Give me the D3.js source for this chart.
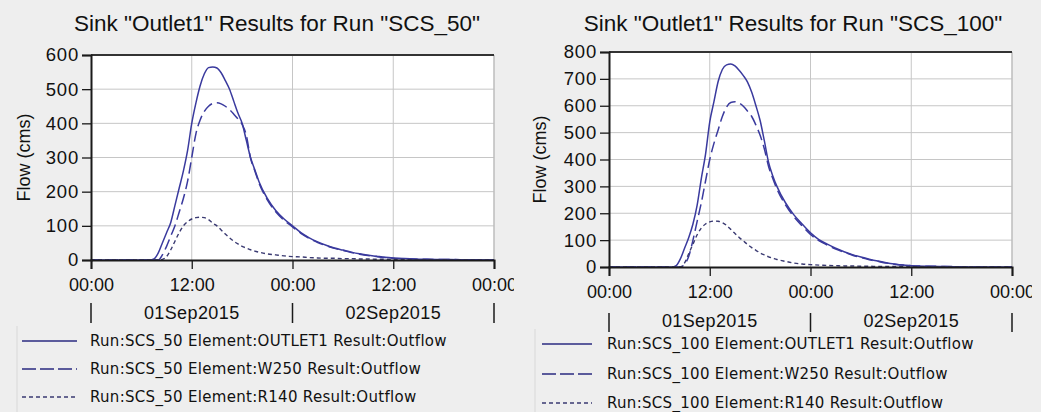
<!DOCTYPE html>
<html>
<head>
<meta charset="utf-8">
<script src="https://cdn.jsdelivr.net/npm/d3@7"></script>
<style>
  body { margin: 0; background: #eeeeee; }
  svg { display: block; }
  text { font-family: "Liberation Sans", Arial, sans-serif; fill: #111; }
</style>
</head>
<body>
<div class="hydro"></div>
<script>
// hours after 01Sep2015 00:00
var hours = [0, 7, 7.5, 8, 8.5, 9, 9.5, 10, 10.5, 11, 11.5, 12, 12.5, 13, 13.5, 14, 14.5, 15, 15.5, 16, 16.5, 17, 17.5, 18, 18.5, 19, 19.5, 20,
    21, 22, 23, 24, 25, 26, 27, 28, 29, 30, 31, 32, 33, 34, 35, 36, 38, 40, 44, 48];

// SCS_50 run
var outlet50 = [0, 0, 3, 20, 50, 80, 110, 160, 210, 260, 320, 400, 460, 510, 545, 563, 565, 562, 548, 525, 500, 465, 430, 400, 350, 300, 265, 230,
    180, 145, 120, 100, 80, 65, 53, 43, 35, 29, 23, 18, 14, 11, 8, 6, 4, 2, 1, 0];
var w250_50 = [0, 0, 0, 0, 15, 40, 70, 100, 140, 180, 230, 300, 370, 410, 435, 450, 458, 460, 457, 450, 440, 427, 413, 397, 365, 298, 262, 226,
    176, 141, 116, 97, 78, 63, 51, 42, 34, 28, 22, 17, 13, 10, 7, 5, 3, 2, 1, 0];
var r140_50 = [0, 0, 0, 0, 2, 10, 30, 55, 80, 100, 112, 120, 124, 125, 124, 118, 108, 100, 88, 76, 65, 55, 47, 40, 35, 30, 26, 23,
    18, 15, 12, 10, 9, 7, 6, 5, 5, 4, 4, 3, 3, 2, 2, 2, 1, 1, 0, 0];

// SCS_100 run
var outlet100 = [0, 0, 0, 5, 30, 70, 110, 160, 230, 330, 420, 540, 615, 690, 735, 752, 755, 748, 732, 712, 688, 650, 600, 545, 470, 390, 340, 300,
    240, 195, 160, 127, 102, 85, 70, 57, 46, 37, 29, 22, 16, 11, 7, 5, 3, 2, 0, 0];
var w250_100 = [0, 0, 0, 0, 0, 10, 40, 100, 170, 240, 320, 400, 460, 510, 560, 595, 612, 615, 610, 598, 580, 560, 528, 490, 440, 375, 330, 290,
    232, 188, 153, 121, 98, 82, 67, 55, 44, 35, 27, 21, 15, 10, 7, 5, 3, 2, 0, 0];
var r140_100 = [0, 0, 0, 0, 0, 15, 50, 85, 120, 145, 160, 168, 171, 170, 165, 155, 140, 125, 110, 97, 84, 72, 62, 52, 45, 38, 33, 28,
    21, 15, 11, 9, 7, 6, 5, 4, 4, 3, 3, 2, 2, 2, 2, 1, 1, 1, 0, 0];

var yTicks50 = [0, 100, 200, 300, 400, 500, 600];
var yTicks100 = [0, 100, 200, 300, 400, 500, 600, 700, 800];
var dayLabels = ["01Sep2015", "02Sep2015"];
var elements = ["OUTLET1", "W250", "R140"];

var start = new Date(2015, 8, 1, 0, 0),
    end = new Date(2015, 8, 3, 0, 0);

var width = 1041, height = 412;

var svg = d3.select(".hydro")
    .append("svg")
    .attr("width", width)
    .attr("height", height);

svg.append("rect")
    .attr("width", width)
    .attr("height", height)
    .style("fill", "#eeeeee");

var lineColor = "#3a3a9e";
var styles = [
    { dash: null, color: lineColor, w: 1.5 },
    { dash: "11,5", color: lineColor, w: 1.5 },
    { dash: "4,3", color: "#3a3a72", w: 1.4 }
];

var panels = [
    { run: "SCS_50", series: [outlet50, w250_50, r140_50], ticks: yTicks50,
      x0: 91, x1: 494, y0: 55, y1: 260, clipX: 0, clipW: 514, titleX: 277,
      ylabX: 30, hhY: 291, dayY: 319, barTop: 303, barBot: 323,
      legY: [341, 369, 397], legX0: 22, legX1: 77, legTx: 90, border: 17 },
    { run: "SCS_100", series: [outlet100, w250_100, r140_100], ticks: yTicks100,
      x0: 609, x1: 1012, y0: 52, y1: 267, clipX: 520, clipW: 512, titleX: 793,
      ylabX: 546, hhY: 298, dayY: 327, barTop: 313, barBot: 332,
      legY: [344, 374, 403], legX0: 542, legX1: 592, legTx: 607, border: 535 }
];

panels.forEach(function(p, pi) {

    var clipId = "clip" + pi;
    svg.append("clipPath").attr("id", clipId)
        .append("rect")
        .attr("x", p.clipX).attr("y", 0)
        .attr("width", p.clipW).attr("height", height);

    var g = svg.append("g").attr("clip-path", "url(#" + clipId + ")");

    var x = d3.scaleTime().domain([start, end]).range([p.x0, p.x1]);
    var y = d3.scaleLinear().domain([0, d3.max(p.ticks)]).range([p.y1, p.y0]);

    // plot area
    g.append("rect")
        .attr("x", p.x0).attr("y", p.y0)
        .attr("width", p.x1 - p.x0).attr("height", p.y1 - p.y0)
        .style("fill", "#ffffff");

    // grid
    g.append("g").selectAll("line")
        .data(p.ticks.slice(1, -1))
        .enter().append("line")
        .attr("x1", p.x0).attr("x2", p.x1)
        .attr("y1", function(d) { return y(d); })
        .attr("y2", function(d) { return y(d); })
        .style("stroke", "#c6c6c6");

    var xTicks = d3.timeHour.every(12).range(start, d3.timeHour.offset(end, 1));

    g.append("g").selectAll("line")
        .data(xTicks.slice(1, -1))
        .enter().append("line")
        .attr("x1", function(d) { return x(d); })
        .attr("x2", function(d) { return x(d); })
        .attr("y1", p.y0).attr("y2", p.y1)
        .style("stroke", "#c6c6c6");

    // borders
    g.append("line")
        .attr("x1", p.x1).attr("x2", p.x1).attr("y1", p.y0).attr("y2", p.y1)
        .style("stroke", "#bdbdbd").style("stroke-width", 1.5);
    g.append("line")
        .attr("x1", p.x0).attr("x2", p.x1).attr("y1", p.y0).attr("y2", p.y0)
        .style("stroke", "#333").style("stroke-width", 2);

    // series
    var line = d3.line()
        .x(function(d) { return x(d3.timeMinute.offset(start, d[0] * 60)); })
        .y(function(d) { return y(d[1]); })
        .curve(d3.curveMonotoneX);

    p.series.forEach(function(vals, si) {
        var st = styles[si];
        g.append("path")
            .datum(hours.map(function(h, i) { return [h, vals[i]]; }))
            .attr("d", line)
            .style("fill", "none")
            .style("stroke", st.color)
            .style("stroke-width", st.w)
            .style("stroke-dasharray", st.dash);
    });

    // y axis
    var yAxis = g.append("g")
        .attr("transform", "translate(" + p.x0 + ",0)")
        .call(d3.axisLeft(y).tickValues(p.ticks).tickSize(9).tickPadding(3));
    yAxis.selectAll("text")
        .style("font-family", "'Liberation Sans', Arial, sans-serif")
        .style("font-size", "18.5px").style("letter-spacing", "0.8px").style("fill", "#111");

    // x axis
    var xAxis = g.append("g")
        .attr("transform", "translate(0," + p.y1 + ")")
        .call(d3.axisBottom(x).tickValues(xTicks).tickFormat(d3.timeFormat("%H:%M")).tickSize(9).tickPadding(4));
    xAxis.selectAll("text")
        .attr("y", null).attr("dy", null)
        .attr("transform", "translate(0," + (p.hhY - p.y1) + ")")
        .style("font-family", "'Liberation Sans', Arial, sans-serif")
        .style("font-size", "18px").style("fill", "#111");

    [yAxis, xAxis].forEach(function(ax) {
        ax.select(".domain").style("stroke", "#1a1a1a").style("stroke-width", 2);
        ax.selectAll(".tick line").style("stroke", "#1a1a1a").style("stroke-width", 1.3);
    });

    // day row
    var days = d3.timeDay.range(start, d3.timeDay.offset(end, 1));
    g.append("g").selectAll("line")
        .data(days)
        .enter().append("line")
        .attr("x1", function(d) { return x(d); })
        .attr("x2", function(d) { return x(d); })
        .attr("y1", p.barTop).attr("y2", p.barBot)
        .style("stroke", "#1a1a1a").style("stroke-width", 1.5);

    g.append("g").selectAll("text")
        .data(dayLabels)
        .enter().append("text")
        .attr("x", function(d, i) { return x(d3.timeHour.offset(days[i], 12)); })
        .attr("y", p.dayY)
        .attr("text-anchor", "middle")
        .style("font-size", "18px")
        .style("letter-spacing", "0.4px")
        .text(function(d) { return d; });

    // title
    g.append("text")
        .attr("x", p.titleX).attr("y", 31)
        .attr("text-anchor", "middle")
        .style("font-size", "22.5px")
        .text('Sink "Outlet1" Results for Run "' + p.run + '"');

    // y label
    g.append("text")
        .attr("transform", "translate(" + p.ylabX + "," + ((p.y0 + p.y1) / 2) + ") rotate(-90)")
        .attr("text-anchor", "middle")
        .style("font-size", "18px")
        .text("Flow (cms)");

    // legend
    g.append("line")
        .attr("x1", p.border).attr("x2", p.border)
        .attr("y1", p.legY[0] - 15).attr("y2", height)
        .style("stroke", "#d8d8d8");

    elements.forEach(function(el, i) {
        var st = styles[i];
        g.append("line")
            .attr("x1", p.legX0).attr("x2", p.legX1)
            .attr("y1", p.legY[i]).attr("y2", p.legY[i])
            .style("stroke", i == 2 ? "#3a3a72" : "#2a2a80")
            .style("stroke-width", 1.4)
            .style("stroke-dasharray", i == 1 ? "14,4" : st.dash);
        g.append("text")
            .attr("x", p.legTx).attr("y", p.legY[i] + 5)
            .style("font-family", "'DejaVu Sans', sans-serif")
            .style("font-size", "15px")
            .style("letter-spacing", "0.3px")
            .text("Run:" + p.run + " Element:" + el + " Result:Outflow");
    });
});
</script>
</body>
</html>
